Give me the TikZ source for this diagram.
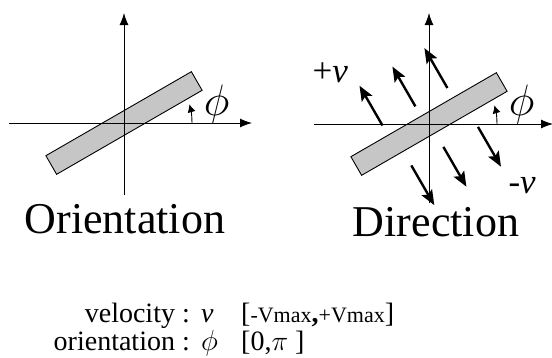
\RequirePackage{fix-cm}
\documentclass[tikz,border=0pt]{standalone}
\usepackage{fontspec}
\setmainfont{Liberation Serif}
\usetikzlibrary{arrows.meta}
\newcommand{\fsz}[1]{\fontsize{#1}{#1}\selectfont}
\begin{document}
\begin{tikzpicture}[x=1pt,y=-1pt,
  axis/.style={line width=0.9pt,-{Latex[length=12pt,width=9pt]}},
  bar/.style={draw,line width=0.9pt,fill=gray!45,minimum width=168pt,minimum height=21.5pt,inner sep=0pt,rotate=30},
  phiarrow/.style={line width=0.9pt,-{Latex[length=8pt,width=8pt]}},
  varrow/.style={line width=2.4pt,-{Stealth[length=15pt,width=12pt,inset=3pt]}},
  biglabel/.style={font=\fsz{44}},
  mlabel/.style={font=\fsz{35}},
  philabel/.style={font=\fsz{44}},
  info/.style={font=\fsz{28},inner sep=0pt},
  infophi/.style={font=\fsz{29},inner sep=0pt}]
\useasboundingbox (0,0) rectangle (552,357);
% ---------- left panel ----------
\coordinate (oL) at (124,123);
\coordinate (xL0) at (9,123);
\coordinate (xL1) at (252,123);
\coordinate (yL0) at (124,195);
\coordinate (yL1) at (124,13);
\node[bar] (barL) at (oL) {};
\draw[axis] (xL0) -- (xL1);
\draw[axis] (yL0) -- (yL1);
\coordinate (pL) at (192,123);
\draw[phiarrow] (pL) arc[start angle=0,end angle=-16,radius=68];
\node[philabel] (phiL) at (216.5,104) {$\phi$};
\node[biglabel,anchor=base] (tL) at (125,233) {Orientation};
% ---------- right panel ----------
\coordinate (oR) at (429,124);
\coordinate (xR0) at (314,124);
\coordinate (xR1) at (553,124);
\coordinate (yR0) at (429,203);
\coordinate (yR1) at (429,13);
\node[bar] (barR) at (oR) {};
\draw[axis] (xR0) -- (xR1);
\draw[axis] (yR0) -- (yR1);
\coordinate (pR) at (497,124);
\draw[phiarrow] (pR) arc[start angle=0,end angle=-16,radius=68];
\node[philabel] (phiR) at (521.5,104) {$\phi$};
% velocity arrows
\coordinate (a1) at (382.5,125.5); \coordinate (b1) at (359.5,85.7);
\coordinate (a2) at (415.4,106.4); \coordinate (b2) at (392.4,66.6);
\coordinate (a3) at (447.4,88.0);  \coordinate (b3) at (424.4,48.1);
\coordinate (a4) at (478.0,126.9); \coordinate (b4) at (501.0,166.7);
\coordinate (a5) at (443.4,146.9); \coordinate (b5) at (466.4,186.7);
\coordinate (a6) at (411.3,165.4); \coordinate (b6) at (434.3,205.2);
\foreach \i in {1,...,6} \draw[varrow] (a\i) -- (b\i);
\node[mlabel,anchor=base west] (pv) at (309,82) {+\textit{v}};
\node[mlabel,anchor=base west] (mv) at (505,193) {-\textit{v}};
\node[biglabel,anchor=base] (tR) at (436,236) {Direction};
% ---------- info text ----------
\node[info,anchor=base east] (lv) at (190,322) {velocity :};
\node[info,anchor=base west] (vv) at (201,322) {\textit{v}};
\node[info,anchor=base west] (rv) at (241,322) {[{\fsz{22}-Vmax}\textbf{,}{\fsz{22}+Vmax}]};
\node[info,anchor=base east] (lo) at (190,350) {orientation :};
\node[infophi,anchor=base west] (vo) at (201,350) {$\phi$};
\node[info,anchor=base west] (ro) at (241,350) {[0,$\pi$ ]};
\end{tikzpicture}
\end{document}
